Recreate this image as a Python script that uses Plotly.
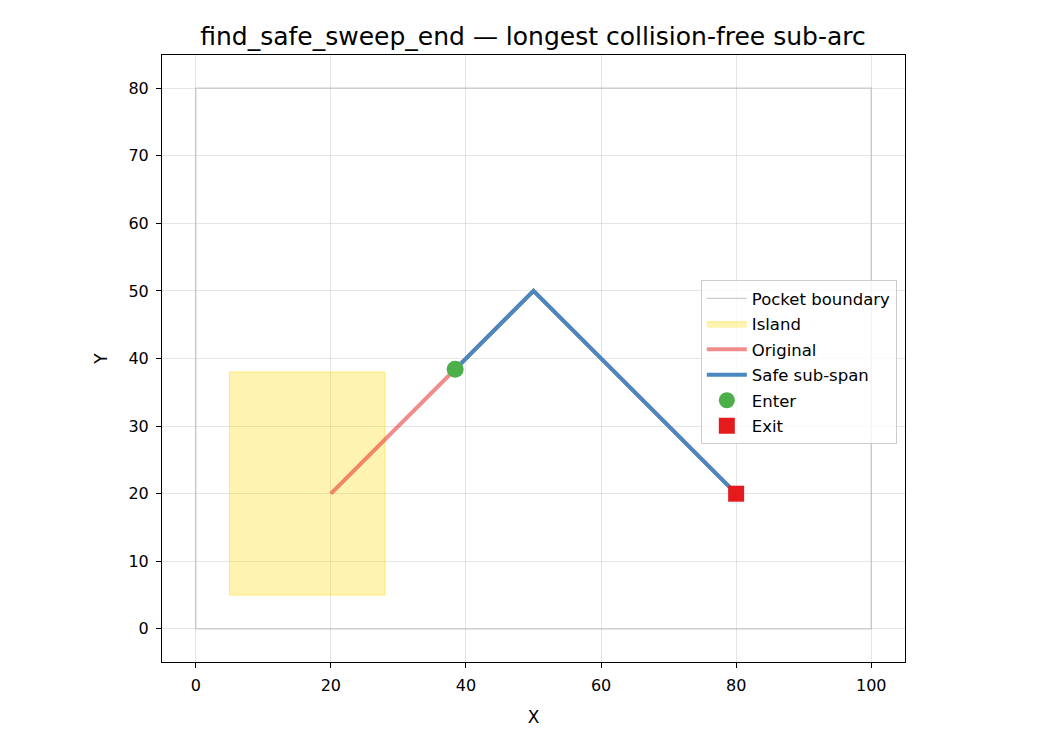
import plotly.graph_objects as go

# pocket boundary and island rectangles (closed polygons)
pocket_x = [0, 100, 100, 0, 0]
pocket_y = [0, 0, 80, 80, 0]
island_x = [5, 28, 28, 5, 5]
island_y = [5, 5, 38, 38, 5]

# original arc (polyline) and safe sub-span
orig_x = [20, 50, 80]
orig_y = [20, 50, 20]
safe_x = [38.4, 50, 80]
safe_y = [38.4, 50, 20]

enter_pt = (38.4, 38.4)
exit_pt = (80, 20)

fig = go.Figure()

fig.add_trace(go.Scatter(x=pocket_x, y=pocket_y, mode='lines', name='Pocket boundary', legendgroup='a',
                         line=dict(color='rgba(190,190,190,0.8)', width=1.3)))
fig.add_trace(go.Scatter(x=island_x, y=island_y, mode='lines', name='Island', fill='toself', legendgroup='b',
                         fillcolor='rgba(255,215,0,0.3)',
                         line=dict(color='rgba(255,215,0,0.45)', width=1)))
fig.add_trace(go.Scatter(x=orig_x, y=orig_y, mode='lines', name='Original', legendgroup='c',
                         line=dict(color='rgba(228,26,28,0.5)', width=4)))
fig.add_trace(go.Scatter(x=safe_x, y=safe_y, mode='lines', name='Safe sub-span', legendgroup='d',
                         line=dict(color='#4a88c1', width=4)))
fig.add_trace(go.Scatter(x=[enter_pt[0]], y=[enter_pt[1]], mode='markers', name='Enter', legendgroup='e',
                         marker=dict(color='#4daf4a', size=17, symbol='circle')))
fig.add_trace(go.Scatter(x=[exit_pt[0]], y=[exit_pt[1]], mode='markers', name='Exit', legendgroup='f',
                         marker=dict(color='#e41a1c', size=16, symbol='square')))

axis_common = dict(showgrid=True, gridcolor='rgba(0,0,0,0.1)', gridwidth=1,
                   zeroline=False, showline=True, linecolor='black', linewidth=1,
                   mirror=True, ticks='outside', ticklen=5, tickcolor='black',
                   ticklabelstandoff=4,
                   tickfont=dict(size=16, color='black'))

fig.update_xaxes(range=[-5, 105], tickvals=[0, 20, 40, 60, 80, 100],
                 title=dict(text='X', font=dict(size=17, color='black'), standoff=16),
                 **axis_common)
fig.update_yaxes(range=[-4.9, 84.9], tickvals=[0, 10, 20, 30, 40, 50, 60, 70, 80],
                 title=dict(text='Y', font=dict(size=17, color='black'), standoff=16),
                 **axis_common)

fig.update_layout(
    width=1050, height=750,
    margin=dict(l=154, r=153, t=47, b=96),
    paper_bgcolor='white', plot_bgcolor='white',
    font=dict(family='DejaVu Sans', color='black'),
    title=dict(text='find_safe_sweep_end — longest collision-free sub-arc',
               x=0.5, xanchor='center', y=0.963, yanchor='middle',
               font=dict(size=25, color='black')),
    legend=dict(x=0.989, xanchor='right', y=0.629, yanchor='top',
                bgcolor='rgba(255,255,255,0.8)', bordercolor='#cccccc', borderwidth=1,
                font=dict(size=16.5), tracegroupgap=1, itemwidth=40),
    showlegend=True,
)

fig.write_html("out.html")
